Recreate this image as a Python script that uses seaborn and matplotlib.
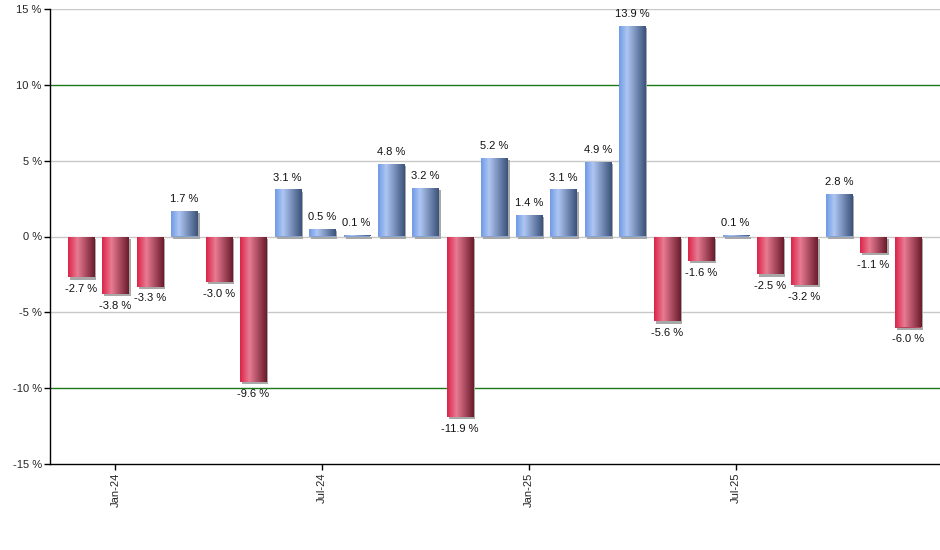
import matplotlib
matplotlib.use("Agg")
import matplotlib.pyplot as plt
import matplotlib.patheffects as pe
import numpy as np
import pandas as pd
import seaborn as sns
from matplotlib.colors import LinearSegmentedColormap

months = [
    "Dec-23", "Jan-24", "Feb-24", "Mar-24", "Apr-24", "May-24", "Jun-24",
    "Jul-24", "Aug-24", "Sep-24", "Oct-24", "Nov-24", "Dec-24", "Jan-25",
    "Feb-25", "Mar-25", "Apr-25", "May-25", "Jun-25", "Jul-25", "Aug-25",
    "Sep-25", "Oct-25", "Nov-25", "Dec-25",
]
returns = [
    -2.7, -3.8, -3.3, 1.7, -3.0, -9.6, 3.1, 0.5, 0.1, 4.8, 3.2, -11.9, 5.2,
    1.4, 3.1, 4.9, 13.9, -5.6, -1.6, 0.1, -2.5, -3.2, 2.8, -1.1, -6.0,
]
tick_months = ["Jan-24", "Jul-24", "Jan-25", "Jul-25"]
y_ticks = [-15, -10, -5, 0, 5, 10, 15]

df = pd.DataFrame({"month": months, "ret": returns})
df["sign"] = np.where(df["ret"] >= 0, "pos", "neg")

sns.set_style("white")
plt.rcParams["font.family"] = ["Liberation Sans", "DejaVu Sans"]

blue_cmap = LinearSegmentedColormap.from_list(
    "blue_bar", [(0.0, "#6f9ae6"), (0.3, "#aec6f2"), (1.0, "#3a5279")]
)
red_cmap = LinearSegmentedColormap.from_list(
    "red_bar", [(0.0, "#dc2248"), (0.35, "#e87b92"), (1.0, "#6a1a2c")]
)

fig = plt.figure(figsize=(9.4, 5.5), dpi=100)
ax = fig.add_axes([50 / 940, 1 - 464 / 550, 890 / 940, 455 / 550])

sns.barplot(
    data=df, x="month", y="ret", hue="sign", order=months,
    palette={"pos": "#7aa0e0", "neg": "#c83050"}, dodge=False,
    legend=False, width=0.76, ax=ax, zorder=3, linewidth=0,
)

grad = np.linspace(0, 1, 256).reshape(1, -1)
for cont in ax.containers:
    for bar, val in zip(cont, cont.datavalues):
        bar.set_path_effects([
            pe.SimplePatchShadow(offset=(1.5, -1.5), shadow_rgbFace="#a8a8a8", alpha=1.0),
            pe.Normal(),
        ])
        x0, y0 = bar.get_x(), bar.get_y()
        w, h = bar.get_width(), bar.get_height()
        img = ax.imshow(
            grad, cmap=blue_cmap if val >= 0 else red_cmap, aspect="auto",
            extent=[x0, x0 + w, min(y0, y0 + h), max(y0, y0 + h)],
            zorder=4, interpolation="bilinear",
        )
        img.set_clip_path(bar)
    ax.bar_label(cont, fmt="{:.1f} %", padding=5, fontsize=8, color="#111111")

for t in y_ticks[1:]:
    color = "#1a7a1a" if abs(t) == 10 else "#c8c8c8"
    ax.axhline(t, color=color, lw=1, zorder=1)

ax.set_xlim(-0.9, 24.93)
ax.set_ylim(-15, 15)
ax.set_yticks(y_ticks)
ax.set_yticklabels([f"{t} %" for t in y_ticks], fontsize=8)
ax.set_xticks([months.index(m) for m in tick_months])
ax.set_xticklabels(tick_months, rotation=90, fontsize=8)
ax.tick_params(axis="both", bottom=True, left=True, length=4, width=1,
               color="black", pad=2)
ax.set_xlabel("")
ax.set_ylabel("")

for side in ["top", "right"]:
    ax.spines[side].set_visible(False)
for side in ["left", "bottom"]:
    ax.spines[side].set_color("black")
    ax.spines[side].set_linewidth(1)

fig.savefig("out.png", dpi=100)
plt.close(fig)
